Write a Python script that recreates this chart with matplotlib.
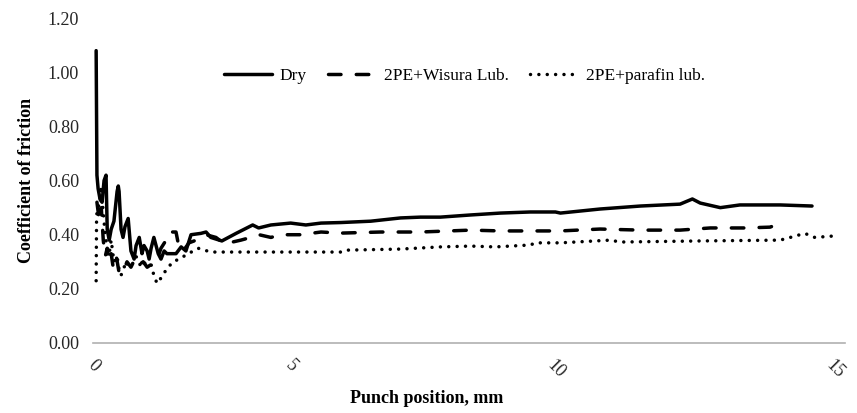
import numpy as np
from matplotlib import pyplot as plt

# punch position (mm) and coefficient of friction, read per test condition
dry_pos = [0.00, 0.02, 0.05, 0.10, 0.15, 0.20, 0.25, 0.28, 0.33, 0.38, 0.45, 0.53, 0.56, 0.58,
           0.63, 0.68, 0.73, 0.81, 0.88, 0.96, 1.01, 1.09, 1.16, 1.21, 1.29, 1.34, 1.39, 1.46,
           1.57, 1.64, 1.72, 1.79, 1.89, 2.02, 2.15, 2.27, 2.40, 2.65, 2.78, 2.90, 3.18, 3.54,
           3.96, 4.11, 4.42, 4.92, 5.23, 5.52, 5.90, 6.47, 7.04, 7.42, 7.80, 8.38, 8.95, 9.52,
           10.00, 10.09, 10.80, 11.52, 12.23, 12.45, 12.59, 12.95, 13.30, 14.02, 14.59]
dry_cof = [1.08, 0.62, 0.57, 0.53, 0.52, 0.60, 0.62, 0.42, 0.38, 0.42, 0.45, 0.56, 0.58, 0.56,
           0.42, 0.39, 0.43, 0.46, 0.34, 0.31, 0.36, 0.39, 0.33, 0.36, 0.34, 0.31, 0.35, 0.39,
           0.33, 0.31, 0.34, 0.33, 0.33, 0.33, 0.355, 0.34, 0.40, 0.405, 0.41, 0.39, 0.377, 0.405,
           0.436, 0.425, 0.436, 0.443, 0.436, 0.443, 0.445, 0.45, 0.462, 0.465, 0.465, 0.473, 0.48, 0.484,
           0.484, 0.48, 0.495, 0.506, 0.513, 0.532, 0.517, 0.50, 0.51, 0.51, 0.506]

wisura_pos = [0.02, 0.08, 0.13, 0.18, 0.23, 0.28, 0.33, 0.38, 0.43, 0.51, 0.58, 0.68, 0.78,
              0.88, 0.98, 1.09, 1.19, 1.29, 1.39, 1.52, 1.64, 1.77, 1.84, 2.02, 2.10, 2.20,
              2.35, 2.53, 2.78, 3.03, 3.21, 3.36, 3.66, 3.91, 4.12, 4.42, 4.67, 5.13, 5.52,
              5.90, 6.66, 7.42, 8.38, 8.95, 10.09, 10.80, 11.52, 12.23, 12.77, 13.39, 13.84,
              13.93, 14.02]
wisura_cof = [0.52, 0.45, 0.50, 0.38, 0.32, 0.35, 0.30, 0.33, 0.28, 0.32, 0.26, 0.26, 0.30,
              0.28, 0.31, 0.29, 0.30, 0.28, 0.29, 0.30, 0.35, 0.38, 0.41, 0.41, 0.35, 0.34,
              0.37, 0.38, 0.40, 0.39, 0.37, 0.37, 0.38, 0.39, 0.40, 0.39, 0.40, 0.40, 0.41,
              0.406, 0.41, 0.41, 0.417, 0.414, 0.414, 0.421, 0.417, 0.417, 0.425, 0.425, 0.428,
              0.435, 0.428]

parafin_pos = [0.00, 0.01, 0.025, 0.08, 0.13, 0.18, 0.23, 0.28, 0.33, 0.38, 0.45, 0.53, 0.58,
               0.63, 0.76, 0.88, 1.01, 1.14, 1.26, 1.39, 1.46, 1.54, 1.64, 1.77, 1.94, 2.10,
               2.27, 2.58, 2.90, 5.13, 5.90, 6.00, 7.04, 7.80, 8.38, 8.85, 9.52, 9.62, 10.09,
               10.98, 11.16, 12.59, 14.02, 14.20, 14.46, 14.64, 14.96]
parafin_cof = [0.23, 0.45, 0.50, 0.51, 0.58, 0.48, 0.40, 0.35, 0.33, 0.38, 0.30, 0.32, 0.27,
               0.25, 0.30, 0.28, 0.32, 0.28, 0.30, 0.29, 0.25, 0.22, 0.24, 0.27, 0.30, 0.31,
               0.325, 0.35, 0.336, 0.336, 0.336, 0.343, 0.347, 0.355, 0.358, 0.355, 0.362, 0.37, 0.37,
               0.38, 0.373, 0.377, 0.38, 0.39, 0.405, 0.39, 0.395]

x_ticks = [0, 5, 10, 15]
y_ticks = [0.0, 0.2, 0.4, 0.6, 0.8, 1.0, 1.2]

# the position axis is not evenly spaced: anchor each labelled position
mm_anchor = [-1, 0, 5, 10, 15, 16]
px_anchor = [55.4, 95, 293, 555, 835, 891]


def forward(x):
    return np.interp(x, mm_anchor, px_anchor)


def inverse(x):
    return np.interp(x, px_anchor, mm_anchor)


plt.rcParams['font.family'] = ['Liberation Serif', 'DejaVu Serif']

fig = plt.figure(figsize=(8.57, 4.13), dpi=100)
ax = fig.add_axes([0.1085, 0.1695, 0.8775, 0.7865])
ax.set_xscale('function', functions=(forward, inverse))

lw = 2.5
ax.plot(dry_pos, dry_cof, color='black', lw=lw, solid_joinstyle='round',
        solid_capstyle='round', label='Dry')
ax.plot(wisura_pos, wisura_cof, color='black', lw=lw, linestyle=(0, (3.6, 4.4)),
        dash_capstyle='round', dash_joinstyle='round', label='2PE+Wisura Lub.')
ax.plot(parafin_pos, parafin_cof, color='black', lw=lw, linestyle=(0, (0.01, 2.4)),
        dash_capstyle='round', label='2PE+parafin lub.')

ax.set_xlim(-0.08, 15.18)
ax.set_ylim(0, 1.2)
ax.set_xticks(x_ticks)
ax.set_xticklabels([str(t) for t in x_ticks], rotation=-45, ha='left', va='top',
                   rotation_mode='anchor', fontsize=13)
ax.set_yticks(y_ticks)
ax.set_yticklabels(['{:.2f}'.format(t) for t in y_ticks], fontsize=13)
ax.tick_params(axis='both', length=0, colors='#262626')
ax.tick_params(axis='x', pad=10)
ax.tick_params(axis='y', pad=10)

for side in ['top', 'right', 'left']:
    ax.spines[side].set_visible(False)
ax.spines['bottom'].set_color('#b0b0b0')
ax.spines['bottom'].set_linewidth(1.2)

ax.set_xlabel('Punch position, mm', fontsize=13, fontweight='bold')
ax.xaxis.set_label_coords(0.444, -0.145)
ax.set_ylabel('Coefficient of friction', fontsize=13, fontweight='bold', labelpad=9)

ax.legend(loc='upper center', bbox_to_anchor=(0.494, 0.895), ncol=3, frameon=False,
          fontsize=12.5, handlelength=2.8, handletextpad=0.45, columnspacing=1.2)

fig.savefig('out.png', dpi=100)
